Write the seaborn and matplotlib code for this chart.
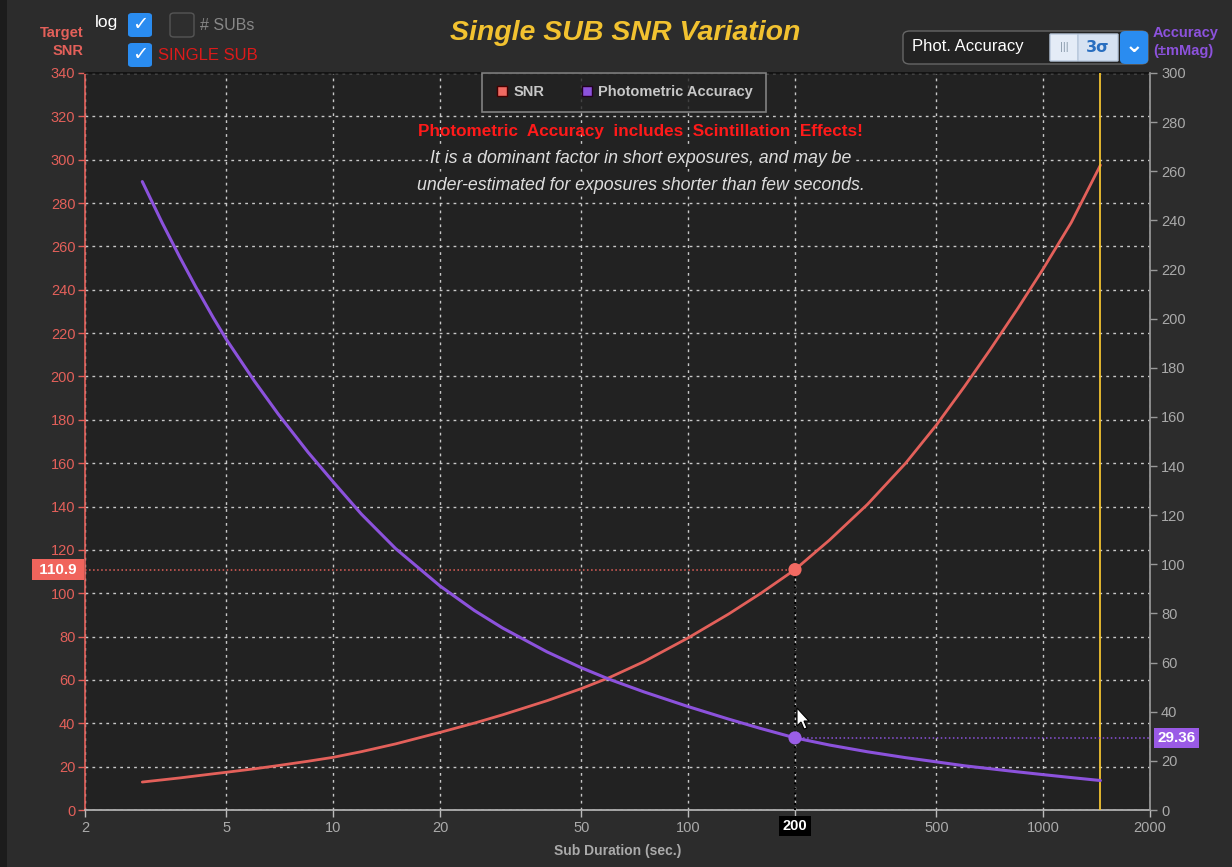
import numpy as np
import pandas as pd
import matplotlib
matplotlib.use("Agg")
import matplotlib.pyplot as plt
import seaborn as sns
from matplotlib.patches import FancyBboxPatch, Rectangle, Polygon
from matplotlib.lines import Line2D
from matplotlib.ticker import FixedLocator, NullLocator, FixedFormatter

# ---------------- data ----------------
sub_duration = [2.9, 3.3, 3.7, 4.1, 4.6, 5, 6, 7, 8.5, 10, 12, 15, 20, 25, 30, 40, 50, 60, 75,
                100, 130, 160, 200, 250, 320, 410, 500, 600, 710, 850, 1000, 1200, 1450]
snr_values = [12.9, 13.9, 14.8, 15.7, 16.7, 17.4, 19.0, 20.5, 22.5, 24.3, 26.9, 30.5, 35.8, 40.1, 43.9,
              50.4, 56.0, 61.1, 68.4, 79.4, 90.4, 99.9, 110.9, 124.5, 141.0, 160.0, 177.5, 195.3,
              212.5, 231.6, 249.6, 271.0, 297.5]
accuracy_values = [255.8, 239.0, 225.0, 213.0, 200.3, 191.6, 174.6, 161.2, 145.6, 133.6, 120.5, 106.4,
                   91.2, 81.2, 74.1, 64.4, 57.9, 53.2, 48.1, 42.1, 37.0, 33.2, 29.36, 26.45, 23.7,
                   21.3, 19.6, 18.0, 16.8, 15.5, 14.4, 13.2, 12.0]
x_ticks = [2, 5, 10, 20, 50, 100, 200, 500, 1000, 2000]
x_tick_labels = ["2", "5", "10", "20", "50", "100", "", "500", "1000", "2000"]
left_ticks = list(range(0, 341, 20))
right_ticks = list(range(0, 301, 20))
cursor_x = 200
cursor_snr = 110.9
cursor_acc = 29.36
limit_x = 1450

df = pd.DataFrame({"dur": sub_duration, "snr": snr_values, "acc": accuracy_values})

RED = "#e3605a"
PURPLE = "#8c52dc"
GOLD = "#f2c230"
GRAYTXT = "#aaaaaa"
FIGBG = "#2c2c2c"
AXBG = "#222222"

sns.set_theme(style="dark")
plt.rcParams["font.family"] = ["Liberation Sans", "DejaVu Sans"]

W, H = 1232, 867
fig = plt.figure(figsize=(W / 100, H / 100), dpi=100, facecolor=FIGBG)

def fx(px):
    return px / W

def fy(py):
    return 1 - py / H

ax = fig.add_axes([fx(85), fy(810), fx(1150) - fx(85), fy(73) - fy(810)])
ax.set_facecolor(AXBG)

# lines
sns.lineplot(data=df, x="dur", y="snr", ax=ax, color=RED, linewidth=2, legend=False)
ax.set_xscale("log")
ax.set_xlim(2, 2000)
ax.set_ylim(0, 340)

ax2 = ax.twinx()
sns.lineplot(data=df, x="dur", y="acc", ax=ax2, color=PURPLE, linewidth=2.2, legend=False)
ax2.set_ylim(0, 300)
ax2.set_xlim(2, 2000)

# grid / ticks
ax.xaxis.set_major_locator(FixedLocator(x_ticks))
ax.xaxis.set_major_formatter(FixedFormatter(x_tick_labels))
ax.xaxis.set_minor_locator(NullLocator())
ax.set_yticks(left_ticks)
ax.grid(True, color="#c8c8c8", linestyle=(0, (2, 3)), linewidth=1)
ax2.set_yticks(right_ticks)
ax2.grid(False)

# spines
for s in ax.spines.values():
    s.set_visible(True)
ax.spines["left"].set_color(RED)
ax.spines["left"].set_linewidth(1.2)
ax.spines["bottom"].set_color("#bbbbbb")
ax.spines["bottom"].set_linewidth(1.2)
ax.spines["top"].set_color("#111111")
ax.spines["right"].set_visible(False)
for k, s in ax2.spines.items():
    s.set_visible(False)
ax2.spines["right"].set_visible(True)
ax2.spines["right"].set_color("#999999")

ax.tick_params(axis="y", colors=RED, labelsize=10.5, length=5, width=1, direction="out", left=True, pad=2)
ax.tick_params(axis="x", colors="#bbbbbb", labelcolor=GRAYTXT, labelsize=10.5, length=5, width=1,
               direction="out", bottom=True, pad=3)
ax2.tick_params(axis="y", colors="#999999", labelcolor=GRAYTXT, labelsize=10.5, length=5, width=1,
                direction="out", right=True, pad=3)

ax.set_xlabel("")
ax.set_ylabel("")
ax2.set_ylabel("")
fig.text(fx(618), fy(851), "Sub Duration (sec.)", ha="center", va="center", color=GRAYTXT,
         fontsize=10, fontweight="bold")

# vertical limit line
ax.axvline(limit_x, color=GOLD, linewidth=1.3, zorder=3)

# crosshair
ax.plot([2, cursor_x], [cursor_snr, cursor_snr], color=RED, linestyle=":", linewidth=1.1, zorder=3)
ax.plot([cursor_x, cursor_x], [0, cursor_snr], color="#000000", linestyle=":", linewidth=1.4, zorder=3)
ax2.plot([cursor_x, 2000], [cursor_acc, cursor_acc], color=PURPLE, linestyle=":", linewidth=1.1, zorder=3)
ax.scatter([cursor_x], [cursor_snr], s=90, color="#f26a62", zorder=5, edgecolors="none")
ax2.scatter([cursor_x], [cursor_acc], s=90, color="#9a5ee6", zorder=5, edgecolors="none")

# value badges
ax.text(-0.004, cursor_snr, " 110.9 ", transform=ax.get_yaxis_transform(), ha="right", va="center",
        color="white", fontsize=11, fontweight="bold",
        bbox=dict(boxstyle="square,pad=0.22", facecolor="#f0645c", edgecolor="none"))
ax2.text(1.007, cursor_acc, "29.36", transform=ax2.get_yaxis_transform(), ha="left", va="center",
         color="white", fontsize=11, fontweight="bold",
         bbox=dict(boxstyle="square,pad=0.22", facecolor="#9a5ae6", edgecolor="none"))
ax.text(cursor_x, -0.0215, "200", transform=ax.get_xaxis_transform(), ha="center", va="center",
        color="white", fontsize=10.5, fontweight="bold",
        bbox=dict(boxstyle="square,pad=0.22", facecolor="black", edgecolor="none"))

# legend
handles = [Line2D([], [], marker="s", linestyle="none", markersize=7, markerfacecolor="#f06a62", markeredgecolor="#400"),
           Line2D([], [], marker="s", linestyle="none", markersize=7, markerfacecolor=PURPLE, markeredgecolor="#202")]
leg = ax.legend(handles, ["SNR", "Photometric Accuracy"], loc="upper center", bbox_to_anchor=(0.506, 1.0),
                ncol=2, frameon=True, facecolor=AXBG, edgecolor="#999999", fontsize=10.5,
                handletextpad=0.3, columnspacing=2.4, borderpad=0.85, handlelength=1.0, borderaxespad=0.0)
leg.get_frame().set_linewidth(1.2)
leg.get_frame().set_boxstyle("square", pad=0)
for t in leg.get_texts():
    t.set_color("#c8c8c8")
    t.set_fontweight("bold")
leg.set_zorder(10)

# annotation
ax.text(0.5215, 0.92, "Photometric  Accuracy  includes  Scintillation  Effects!", transform=ax.transAxes,
        ha="center", va="center", color="#ff1a1a", fontsize=12.3, fontweight="bold", zorder=6)
ax.text(0.5215, 0.884, "It is a dominant factor in short exposures, and may be", transform=ax.transAxes,
        ha="center", va="center", color="#dddddd", fontsize=12.8, style="italic", zorder=6,
        bbox=dict(boxstyle="square,pad=0.1", facecolor=AXBG, edgecolor="none"))
ax.text(0.5215, 0.848, "under-estimated for exposures shorter than few seconds.", transform=ax.transAxes,
        ha="center", va="center", color="#dddddd", fontsize=12.8, style="italic", zorder=6,
        bbox=dict(boxstyle="square,pad=0.1", facecolor=AXBG, edgecolor="none"))

# ---------------- header / decorations ----------------
fig.patches.append(Rectangle((0, 0), fx(7), 1, transform=fig.transFigure, facecolor="#1c1c1c", edgecolor="none"))

fig.text(fx(625), fy(33), "Single SUB SNR Variation", ha="center", va="center", color=GOLD,
         fontsize=20.5, fontweight="bold", style="italic")
fig.text(fx(83), fy(33), "Target", ha="right", va="center", color=RED, fontsize=10.5, fontweight="bold")
fig.text(fx(83), fy(51), "SNR", ha="right", va="center", color=RED, fontsize=10.5, fontweight="bold")
fig.text(fx(1153), fy(33), "Accuracy", ha="left", va="center", color=PURPLE, fontsize=10.5, fontweight="bold")
fig.text(fx(1153), fy(51), "(±mMag)", ha="left", va="center", color=PURPLE, fontsize=10.5, fontweight="bold")

def box(x0, y0, x1, y1, fc, ec="none", lw=1, r=4):
    p = FancyBboxPatch((fx(x0), fy(y1)), fx(x1) - fx(x0), fy(y0) - fy(y1),
                       boxstyle=f"round,pad=0,rounding_size={r / W}", transform=fig.transFigure,
                       facecolor=fc, edgecolor=ec, linewidth=lw)
    fig.patches.append(p)

fig.text(fx(95), fy(23), "log", ha="left", va="center", color="white", fontsize=12.5)
box(128, 13, 152, 37, "#2a8cf0")
fig.text(fx(140), fy(25), "✓", ha="center", va="center", color="white", fontsize=14, fontweight="bold", family="DejaVu Sans")
box(170, 13, 194, 37, "#2e2e2e", ec="#555555")
fig.text(fx(200), fy(25), "# SUBs", ha="left", va="center", color="#888888", fontsize=11.5)
box(128, 43, 152, 67, "#2a8cf0")
fig.text(fx(140), fy(55), "✓", ha="center", va="center", color="white", fontsize=14, fontweight="bold", family="DejaVu Sans")
fig.text(fx(158), fy(56), "SINGLE SUB", ha="left", va="center", color="#dd1a1a", fontsize=12)

box(903, 31, 1148, 64, "#232323", ec="#666666", lw=1, r=7)
fig.text(fx(912), fy(47), "Phot. Accuracy", ha="left", va="center", color="white", fontsize=12)
box(1050, 34, 1078, 61, "#e4ecf7", ec="#b8c8dc", r=1)
box(1078, 34, 1118, 61, "#d6e2f2", ec="#b8c8dc", r=1)
fig.text(fx(1064), fy(47), "|||", ha="center", va="center", color="#8899aa", fontsize=8)
fig.text(fx(1098), fy(47), "3σ", ha="center", va="center", color="#2a6fc0", fontsize=11.5, fontweight="bold", family="DejaVu Sans")
box(1120, 31, 1148, 64, "#2a8cf0", r=6)
fig.text(fx(1134), fy(46), "⌄", ha="center", va="center", color="white", fontsize=16, fontweight="bold", family="DejaVu Sans")

# mouse cursor
tipx, tipy = 797, 708
pts = [(0, 0), (0, 18), (4, 14), (7, 21), (10, 20), (7, 13), (12, 13)]
fig.patches.append(Polygon([(fx(tipx + a), fy(tipy + b)) for a, b in pts], closed=True,
                           transform=fig.transFigure, facecolor="white", edgecolor="black", linewidth=0.8, zorder=20))

fig.savefig("out.png", dpi=100, facecolor=FIGBG)
